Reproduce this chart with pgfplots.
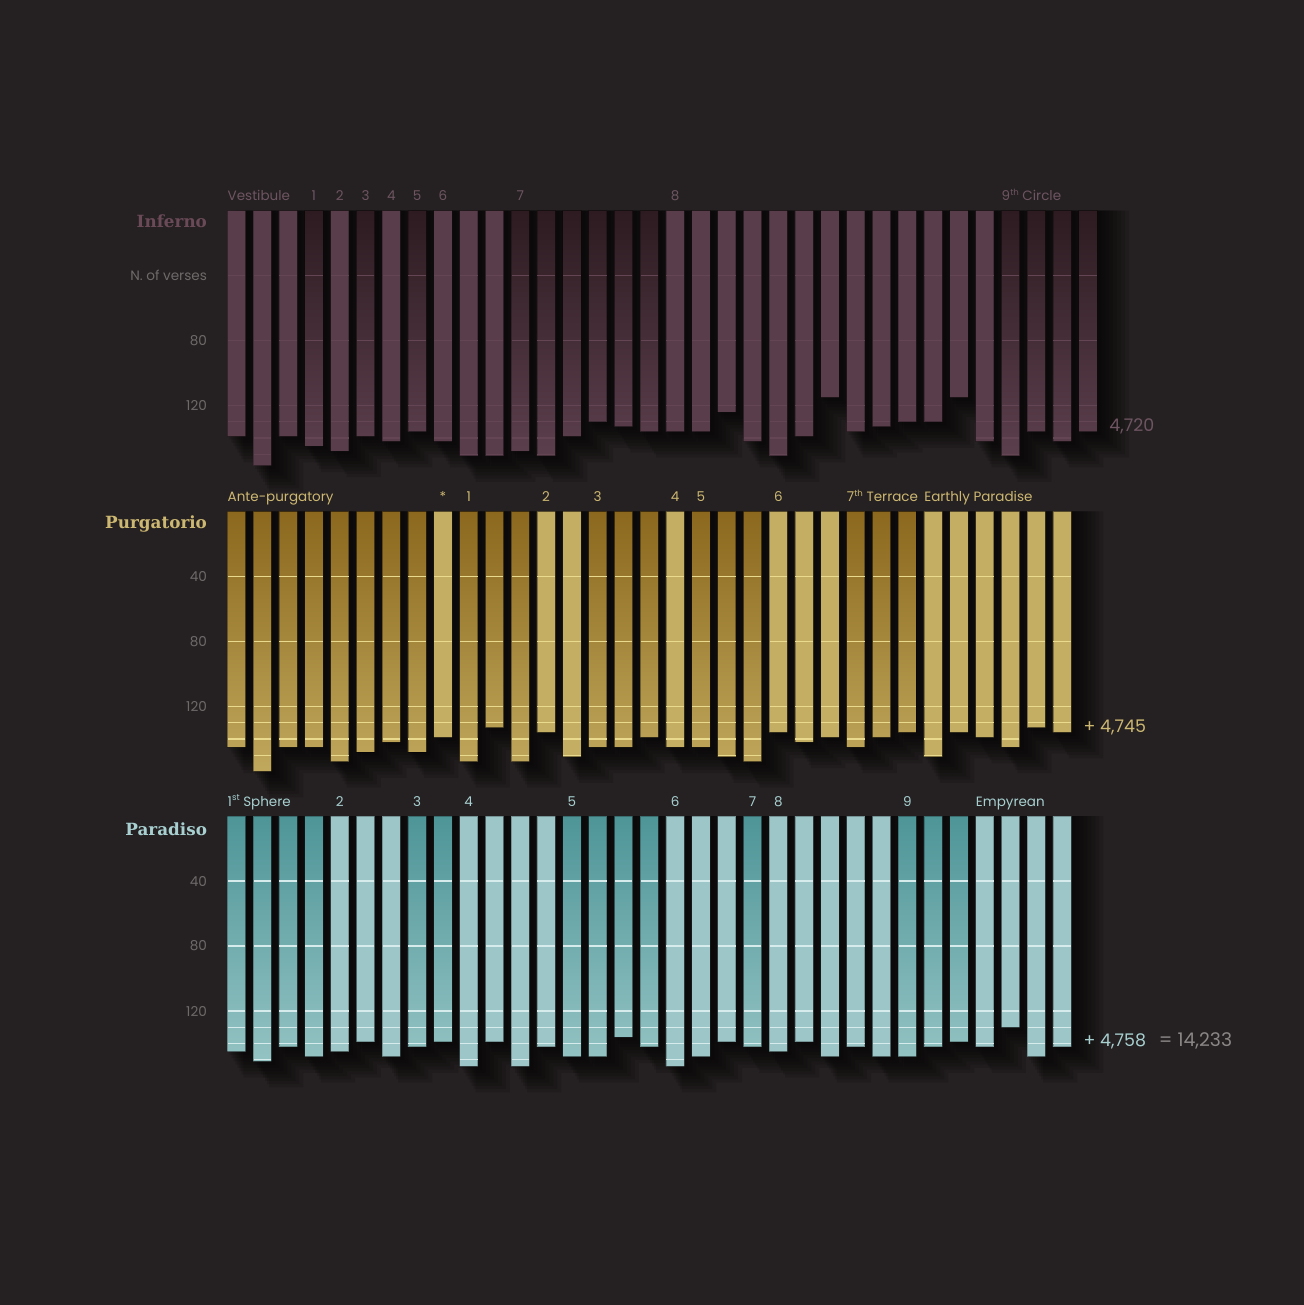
\documentclass[border=0pt]{standalone}
\usepackage{pgfplots}
\pgfplotsset{compat=1.18}
\usepackage{pgfplotstable}
\usepackage{fontspec}
\setmainfont{Poppins}
\newfontfamily\titlefont{DejaVu Serif}

\definecolor{bg}{HTML}{252122}
\definecolor{infL}{HTML}{5A3D4B}
\definecolor{infDT}{HTML}{2D1B21}
\definecolor{infDB}{HTML}{5C3F4D}
\definecolor{infG}{HTML}{634553}
\definecolor{infT}{HTML}{6B4A58}
\definecolor{infTxt}{HTML}{6E5561}
\definecolor{purL}{HTML}{C4AE63}
\definecolor{purDT}{HTML}{8B681D}
\definecolor{purDB}{HTML}{C0A85C}
\definecolor{purG}{HTML}{EADA8E}
\definecolor{purT}{HTML}{CDB872}
\definecolor{parL}{HTML}{9CC6C7}
\definecolor{parDT}{HTML}{4E9598}
\definecolor{parDB}{HTML}{94C3C3}
\definecolor{parG}{HTML}{D6ECEC}
\definecolor{parT}{HTML}{A8D0D0}
\definecolor{tickc}{HTML}{6E6A6A}
\definecolor{sumc}{HTML}{8A8686}

% n = bar (canto), v = verses, d = 1 for shaded (alternating section)
\pgfplotstableread{
n v d
1 139 0
2 157 0
3 139 0
4 145 1
5 148 0
6 139 1
7 142 0
8 136 1
9 142 0
10 151 0
11 151 0
12 148 1
13 151 1
14 139 1
15 130 1
16 133 1
17 136 1
18 136 0
19 136 0
20 124 0
21 142 0
22 151 0
23 139 0
24 115 0
25 136 0
26 133 0
27 130 0
28 130 0
29 115 0
30 142 0
31 151 1
32 136 1
33 142 1
34 136 1
}\infdata

\pgfplotstableread{
n v d
1 145 1
2 160 1
3 145 1
4 145 1
5 154 1
6 148 1
7 142 1
8 148 1
9 139 0
10 154 1
11 133 1
12 154 1
13 136 0
14 151 0
15 145 1
16 145 1
17 139 1
18 145 0
19 145 1
20 151 1
21 154 1
22 136 0
23 142 0
24 139 0
25 145 1
26 139 1
27 136 1
28 151 0
29 136 0
30 139 0
31 145 0
32 133 0
33 136 0
}\purdata

\pgfplotstableread{
n v d
1 145 1
2 151 1
3 142 1
4 148 1
5 145 0
6 139 0
7 148 0
8 142 1
9 139 1
10 154 0
11 139 0
12 154 0
13 142 0
14 148 1
15 148 1
16 136 1
17 142 1
18 154 0
19 148 0
20 139 0
21 142 1
22 145 0
23 139 0
24 148 0
25 142 0
26 148 0
27 148 1
28 142 1
29 139 1
30 142 0
31 130 0
32 148 0
33 142 0
}\pardata

\pgfplotsset{
  panel/.style={x=12.9bp, y=0.8125bp, y dir=reverse, anchor=north west, hide axis,
    xmin=0, xmax=37, ymin=-5, ymax=175, clip=false},
  shadowbar/.style={ybar, fill=black, fill opacity=0.12, draw=none},
  gl/.style={only marks, mark=-, mark size=4.4bp, mark options={draw=#1, line width=0.6bp}},
}
\tikzset{
  sec/.style={font=\fontsize{6.75bp}{8bp}\selectfont, inner sep=0pt, yshift=5bp},
  ttl/.style={font=\titlefont\bfseries\fontsize{8.4bp}{10bp}\selectfont, inner sep=0pt, anchor=base east, xshift=-10bp},
  tck/.style={font=\fontsize{6.8bp}{8bp}\selectfont, inner sep=0pt, anchor=east, xshift=-10bp, text=tickc},
  tot/.style={font=\fontsize{8.7bp}{10bp}\selectfont, inner sep=0pt, anchor=base west, xshift=6bp},
}

\newcommand\shadows[1]{%
  \addplot[shadowbar, bar shift=1.5bp, bar width=10.15bp] table[x=n, y expr=\thisrow{v}+2]{#1};
  \addplot[shadowbar, bar shift=3bp, bar width=11.15bp] table[x=n, y expr=\thisrow{v}+4]{#1};
  \addplot[shadowbar, bar shift=4.5bp, bar width=12.15bp] table[x=n, y expr=\thisrow{v}+6]{#1};
  \addplot[shadowbar, bar shift=6bp, bar width=13.15bp] table[x=n, y expr=\thisrow{v}+8]{#1};
  \addplot[shadowbar, bar shift=7.5bp, bar width=14.15bp] table[x=n, y expr=\thisrow{v}+10]{#1};
  \addplot[shadowbar, bar shift=9bp, bar width=15.15bp] table[x=n, y expr=\thisrow{v}+12]{#1};
  \addplot[shadowbar, bar shift=10.5bp, bar width=16.15bp] table[x=n, y expr=\thisrow{v}+14]{#1};
  \addplot[shadowbar, bar shift=12bp, bar width=17.15bp] table[x=n, y expr=\thisrow{v}+16]{#1};
}
\newcommand\grids[2]{%
  \addplot[gl=#2] table[x=n, y expr=40]{#1};
  \addplot[gl=#2] table[x=n, y expr=80]{#1};
  \addplot[gl=#2, restrict expr to domain={\thisrow{v}}{121:999}] table[x=n, y expr=120]{#1};
  \addplot[gl=#2, restrict expr to domain={\thisrow{v}}{131:999}] table[x=n, y expr=130]{#1};
  \addplot[gl=#2, restrict expr to domain={\thisrow{v}}{141:999}] table[x=n, y expr=140]{#1};
  \addplot[gl=#2, restrict expr to domain={\thisrow{v}}{151:999}] table[x=n, y expr=150]{#1};
}
\newcommand\supr[1]{\raisebox{0.38em}{\fontsize{4.3bp}{5bp}\selectfont #1}}

\begin{document}
\begin{tikzpicture}
\path[use as bounding box, fill=bg] (0,0) rectangle (652bp,-652.5bp);

% ---------------- Inferno
\begin{axis}[panel, at={(105.35bp,-101.19bp)}]
\shadows{\infdata}
\addplot[ybar, bar shift=0pt, bar width=9.15bp, fill=infL, draw=black, draw opacity=0.25, line width=0.4bp,
  restrict expr to domain={\thisrow{d}}{0:0}] table[x=n, y=v]{\infdata};
\addplot[ybar, bar shift=0pt, bar width=9.15bp, top color=infDT, bottom color=infDB, draw=black, draw opacity=0.25, line width=0.4bp,
  restrict expr to domain={\thisrow{d}}{1:1}] table[x=n, y=v]{\infdata};
\grids{\infdata}{infG}
\node[ttl, text=infT] at (axis cs:0.645,10.2) {Inferno};
\node[tck] at (axis cs:0.645,40) {N. of verses};
\node[tck] at (axis cs:0.645,80) {80};
\node[tck] at (axis cs:0.645,120) {120};
\begin{scope}[every node/.style={sec, text=infTxt}]
\node[anchor=base west] at (axis cs:0.645,0) {Vestibule};
\node[anchor=base] at (axis cs:4,0) {1};
\node[anchor=base] at (axis cs:5,0) {2};
\node[anchor=base] at (axis cs:6,0) {3};
\node[anchor=base] at (axis cs:7,0) {4};
\node[anchor=base] at (axis cs:8,0) {5};
\node[anchor=base] at (axis cs:9,0) {6};
\node[anchor=base] at (axis cs:12,0) {7};
\node[anchor=base] at (axis cs:18,0) {8};
\node[anchor=base west] at (axis cs:30.645,0) {9\supr{th} Circle};
\end{scope}
\node[tot, text=infTxt] at (axis cs:34.355,136) {4,720};
\end{axis}

% ---------------- Purgatorio
\begin{axis}[panel, at={(105.35bp,-251.64bp)}]
\shadows{\purdata}
\addplot[ybar, bar shift=0pt, bar width=9.15bp, fill=purL, draw=black, draw opacity=0.35, line width=0.4bp,
  restrict expr to domain={\thisrow{d}}{0:0}] table[x=n, y=v]{\purdata};
\addplot[ybar, bar shift=0pt, bar width=9.15bp, top color=purDT, bottom color=purDB, draw=black, draw opacity=0.35, line width=0.4bp,
  restrict expr to domain={\thisrow{d}}{1:1}] table[x=n, y=v]{\purdata};
\grids{\purdata}{purG}
\node[ttl, text=purT] at (axis cs:0.645,10.8) {Purgatorio};
\node[tck] at (axis cs:0.645,40) {40};
\node[tck] at (axis cs:0.645,80) {80};
\node[tck] at (axis cs:0.645,120) {120};
\begin{scope}[every node/.style={sec, text=purT}]
\node[anchor=base west] at (axis cs:0.645,0) {Ante-purgatory};
\node[anchor=base] at (axis cs:9,0) {*};
\node[anchor=base] at (axis cs:10,0) {1};
\node[anchor=base] at (axis cs:13,0) {2};
\node[anchor=base] at (axis cs:15,0) {3};
\node[anchor=base] at (axis cs:18,0) {4};
\node[anchor=base] at (axis cs:19,0) {5};
\node[anchor=base] at (axis cs:22,0) {6};
\node[anchor=base west] at (axis cs:24.645,0) {7\supr{th} Terrace};
\node[anchor=base west] at (axis cs:27.645,0) {Earthly Paradise};
\end{scope}
\node[tot, text=purT] at (axis cs:33.355,136) {+ 4,745};
\end{axis}

% ---------------- Paradiso
\begin{axis}[panel, at={(105.35bp,-403.94bp)}]
\shadows{\pardata}
\addplot[ybar, bar shift=0pt, bar width=9.15bp, fill=parL, draw=black, draw opacity=0.25, line width=0.4bp,
  restrict expr to domain={\thisrow{d}}{0:0}] table[x=n, y=v]{\pardata};
\addplot[ybar, bar shift=0pt, bar width=9.15bp, top color=parDT, bottom color=parDB, draw=black, draw opacity=0.25, line width=0.4bp,
  restrict expr to domain={\thisrow{d}}{1:1}] table[x=n, y=v]{\pardata};
\grids{\pardata}{parG}
\node[ttl, text=parT] at (axis cs:0.645,11.7) {Paradiso};
\node[tck] at (axis cs:0.645,40) {40};
\node[tck] at (axis cs:0.645,80) {80};
\node[tck] at (axis cs:0.645,120) {120};
\begin{scope}[every node/.style={sec, text=parT}]
\node[anchor=base west] at (axis cs:0.645,0) {1\supr{st} Sphere};
\node[anchor=base] at (axis cs:5,0) {2};
\node[anchor=base] at (axis cs:8,0) {3};
\node[anchor=base] at (axis cs:10,0) {4};
\node[anchor=base] at (axis cs:14,0) {5};
\node[anchor=base] at (axis cs:18,0) {6};
\node[anchor=base] at (axis cs:21,0) {7};
\node[anchor=base] at (axis cs:22,0) {8};
\node[anchor=base] at (axis cs:27,0) {9};
\node[anchor=base west] at (axis cs:29.645,0) {Empyrean};
\end{scope}
\node[tot, text=parT] at (axis cs:33.355,142) {+ 4,758\hspace{6.5bp}{\color{sumc}\fontsize{9.4bp}{10bp}\selectfont = 14,233}};
\end{axis}
\end{tikzpicture}
\end{document}
